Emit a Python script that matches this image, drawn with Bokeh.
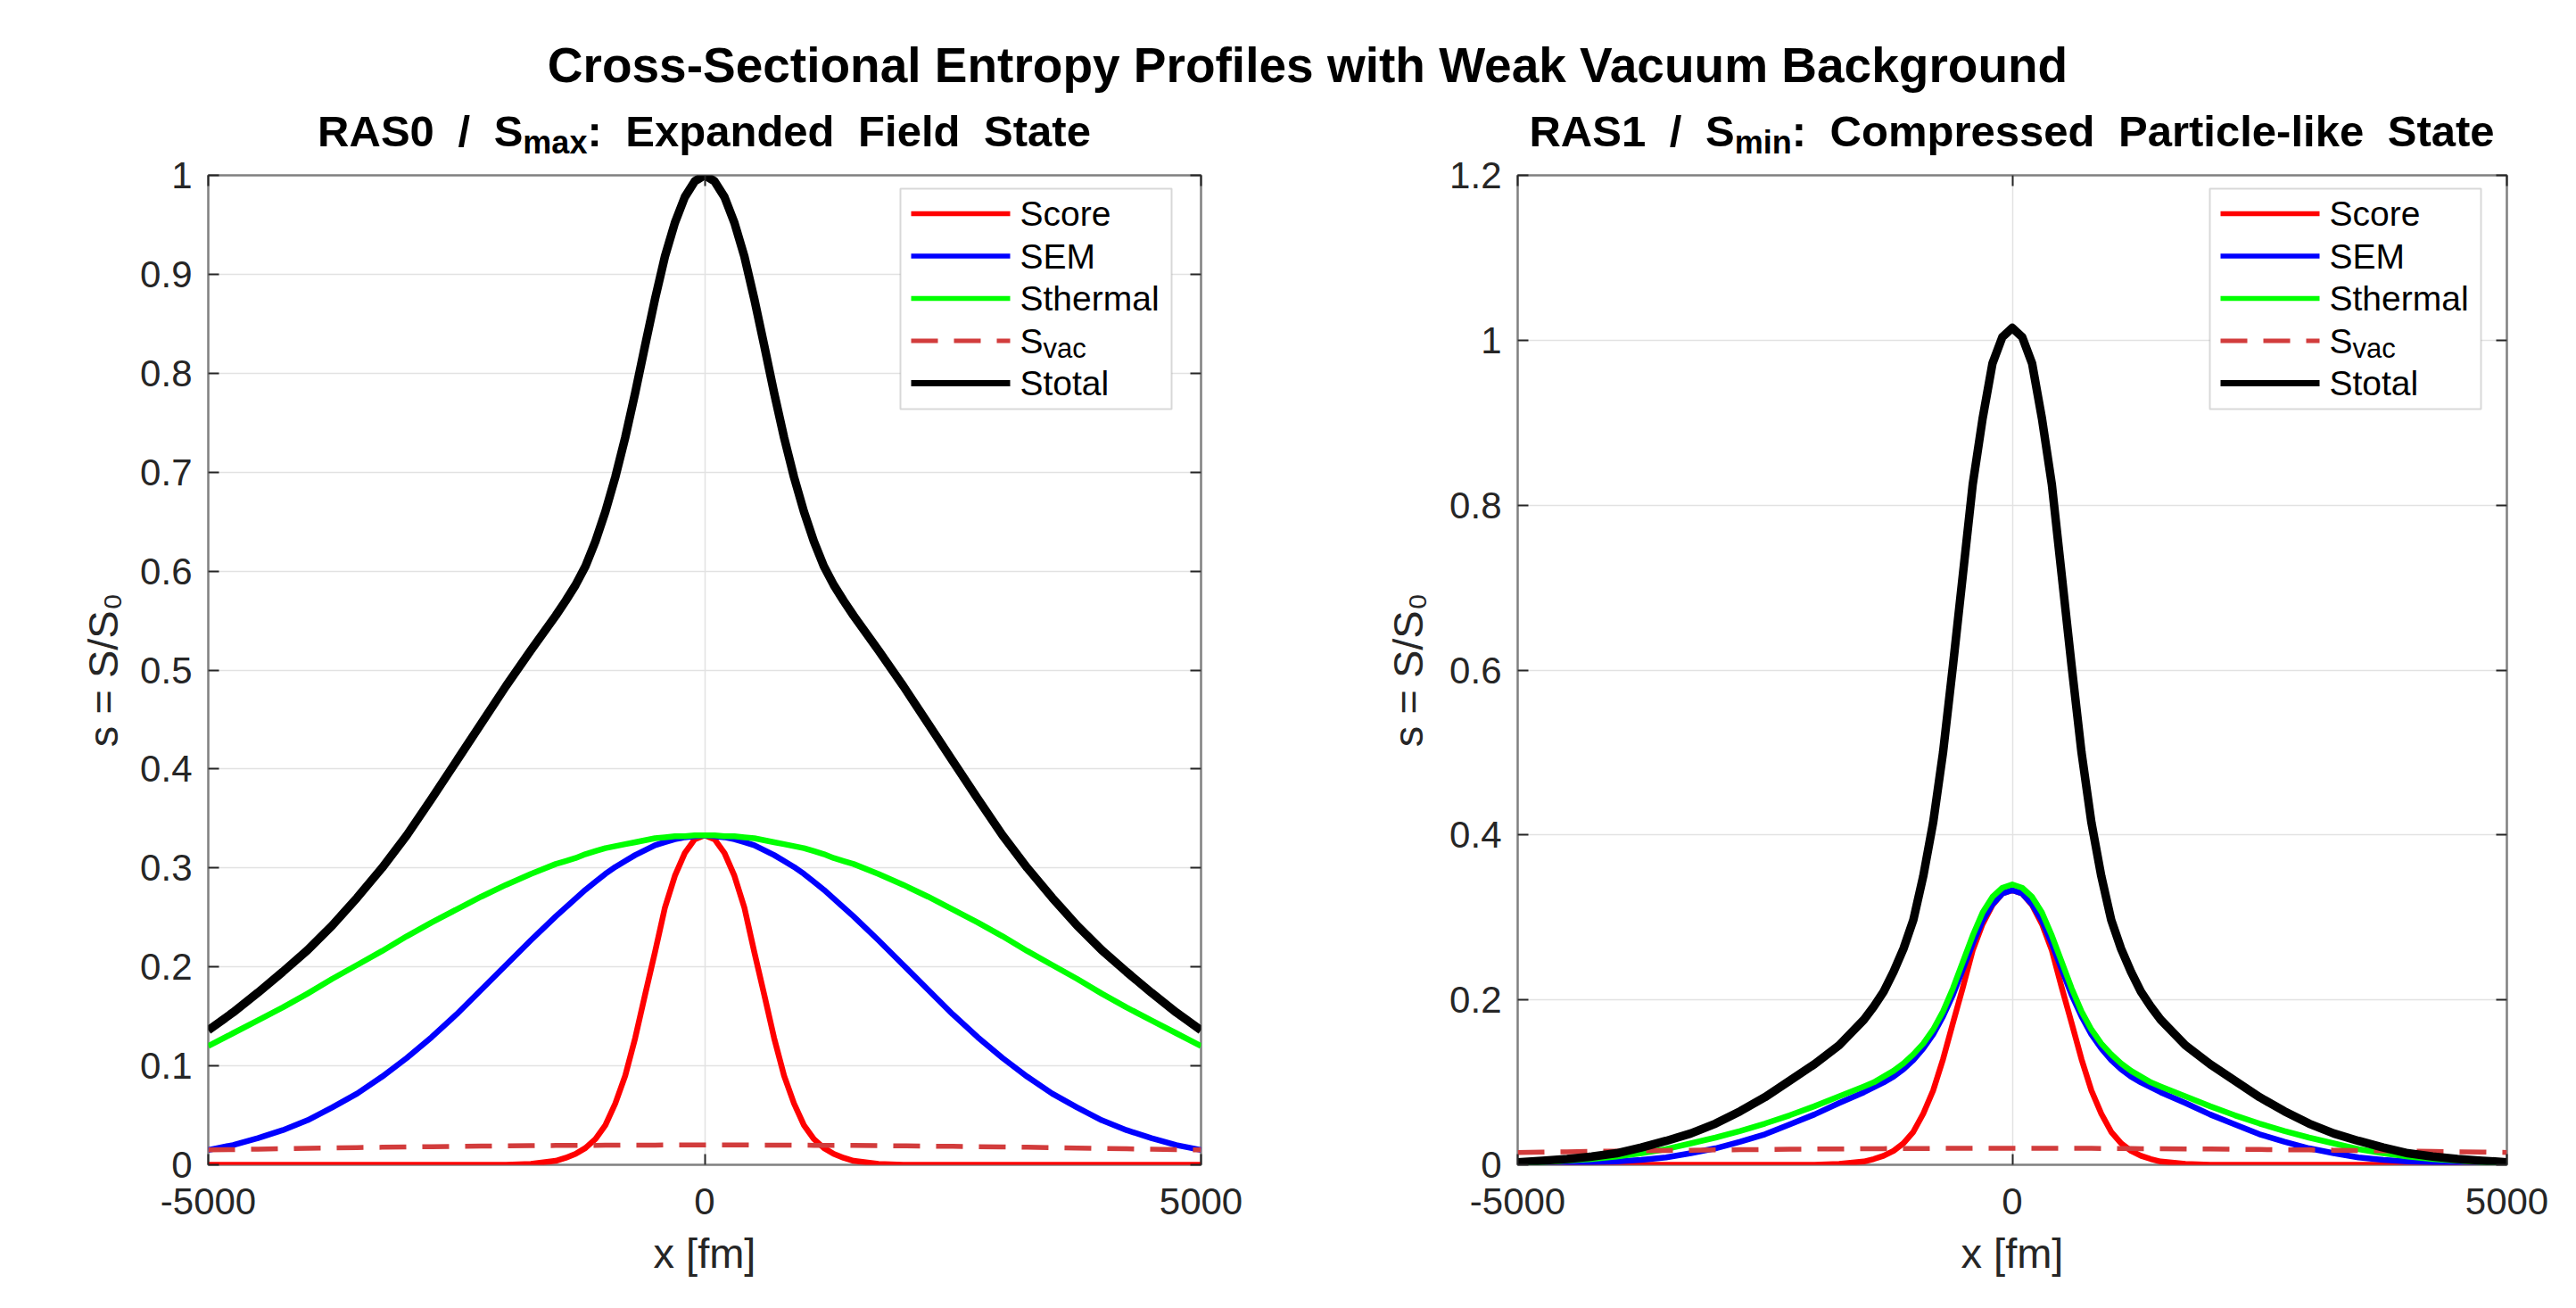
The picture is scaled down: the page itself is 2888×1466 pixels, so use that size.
import math
from bokeh.plotting import figure
from bokeh.models import Range1d, FixedTicker, LinearAxis, Label, BoxAnnotation, Div
from bokeh.layouts import column, row
from bokeh.embed import file_html
from bokeh.resources import INLINE

# ------------------------------------------------------------------ data
x_fm = [-5000, -4750, -4500, -4250, -4000, -3750, -3500, -3250, -3000, -2750,
        -2500, -2250, -2000, -1750, -1500, -1400, -1300, -1200, -1100, -1000,
        -900, -800, -700, -600, -500, -400, -300, -200, -100, 0,
        100, 200, 300, 400, 500, 600, 700, 800, 900, 1000,
        1100, 1200, 1300, 1400, 1500, 1750, 2000, 2250, 2500, 2750,
        3000, 3250, 3500, 3750, 4000, 4250, 4500, 4750, 5000]

# RAS0 / S_max panel
score_left = [0, 0, 0, 0, 0, 0, 0, 0, 0, 0,
              0, 0, 0, 0.001, 0.004, 0.007, 0.011, 0.017, 0.026, 0.040,
              0.062, 0.090, 0.128, 0.172, 0.215, 0.260, 0.292, 0.315, 0.329, 0.333,
              0.329, 0.315, 0.292, 0.260, 0.215, 0.172, 0.128, 0.090, 0.062, 0.040,
              0.026, 0.017, 0.011, 0.007, 0.004, 0.001, 0, 0, 0, 0,
              0, 0, 0, 0, 0, 0, 0, 0, 0]
sem_left = [0.015, 0.020, 0.027, 0.035, 0.045, 0.058, 0.072, 0.089, 0.108, 0.129,
            0.152, 0.177, 0.202, 0.227, 0.251, 0.260, 0.269, 0.278, 0.286, 0.294,
            0.301, 0.307, 0.313, 0.318, 0.323, 0.326, 0.329, 0.331, 0.332, 0.333,
            0.332, 0.331, 0.329, 0.326, 0.323, 0.318, 0.313, 0.307, 0.301, 0.294,
            0.286, 0.278, 0.269, 0.260, 0.251, 0.227, 0.202, 0.177, 0.152, 0.129,
            0.108, 0.089, 0.072, 0.058, 0.045, 0.035, 0.027, 0.020, 0.015]
thermal_left = [0.120, 0.133, 0.146, 0.159, 0.173, 0.188, 0.202, 0.216, 0.231, 0.245,
                0.258, 0.271, 0.283, 0.294, 0.304, 0.307, 0.310, 0.314, 0.317, 0.320,
                0.322, 0.324, 0.326, 0.328, 0.330, 0.331, 0.332, 0.332, 0.333, 0.333,
                0.333, 0.332, 0.332, 0.331, 0.330, 0.328, 0.326, 0.324, 0.322, 0.320,
                0.317, 0.314, 0.310, 0.307, 0.304, 0.294, 0.283, 0.271, 0.258, 0.245,
                0.231, 0.216, 0.202, 0.188, 0.173, 0.159, 0.146, 0.133, 0.120]
svac_left = [0.0150, 0.0154, 0.0158, 0.0162, 0.0166, 0.0170, 0.0174, 0.0177, 0.0180, 0.0183,
             0.0186, 0.0189, 0.0191, 0.0193, 0.0195, 0.0196, 0.0196, 0.0197, 0.0197, 0.0198,
             0.0198, 0.0199, 0.0199, 0.0199, 0.0199, 0.0200, 0.0200, 0.0200, 0.0200, 0.0200,
             0.0200, 0.0200, 0.0200, 0.0200, 0.0199, 0.0199, 0.0199, 0.0199, 0.0198, 0.0198,
             0.0197, 0.0197, 0.0196, 0.0196, 0.0195, 0.0193, 0.0191, 0.0189, 0.0186, 0.0183,
             0.0180, 0.0177, 0.0174, 0.0170, 0.0166, 0.0162, 0.0158, 0.0154, 0.0150]
total_left = [0.136, 0.154, 0.174, 0.195, 0.217, 0.242, 0.270, 0.300, 0.333, 0.370,
              0.408, 0.446, 0.484, 0.520, 0.555, 0.570, 0.586, 0.605, 0.630, 0.660,
              0.695, 0.735, 0.780, 0.828, 0.875, 0.918, 0.952, 0.978, 0.994, 1.000,
              0.994, 0.978, 0.952, 0.918, 0.875, 0.828, 0.780, 0.735, 0.695, 0.660,
              0.630, 0.605, 0.586, 0.570, 0.555, 0.520, 0.484, 0.446, 0.408, 0.370,
              0.333, 0.300, 0.270, 0.242, 0.217, 0.195, 0.174, 0.154, 0.136]

# RAS1 / S_min panel
score_right = [0, 0, 0, 0, 0, 0, 0, 0, 0, 0,
               0, 0, 0, 0.001, 0.004, 0.007, 0.011, 0.017, 0.026, 0.040,
               0.062, 0.090, 0.128, 0.172, 0.215, 0.260, 0.292, 0.315, 0.329, 0.333,
               0.329, 0.315, 0.292, 0.260, 0.215, 0.172, 0.128, 0.090, 0.062, 0.040,
               0.026, 0.017, 0.011, 0.007, 0.004, 0.001, 0, 0, 0, 0,
               0, 0, 0, 0, 0, 0, 0, 0, 0]
sem_right = [0.001, 0.001, 0.002, 0.003, 0.004, 0.006, 0.009, 0.014, 0.020, 0.028,
             0.037, 0.049, 0.061, 0.075, 0.088, 0.094, 0.100, 0.107, 0.116, 0.127,
             0.141, 0.158, 0.180, 0.206, 0.237, 0.268, 0.296, 0.316, 0.329, 0.333,
             0.329, 0.316, 0.296, 0.268, 0.237, 0.206, 0.180, 0.158, 0.141, 0.127,
             0.116, 0.107, 0.100, 0.094, 0.088, 0.075, 0.061, 0.049, 0.037, 0.028,
             0.020, 0.014, 0.009, 0.006, 0.004, 0.003, 0.002, 0.001, 0.001]
thermal_right = [0.002, 0.003, 0.005, 0.007, 0.010, 0.014, 0.019, 0.026, 0.033, 0.041,
                 0.050, 0.060, 0.071, 0.083, 0.095, 0.100, 0.107, 0.114, 0.123, 0.134,
                 0.147, 0.164, 0.186, 0.214, 0.246, 0.278, 0.306, 0.325, 0.336, 0.340,
                 0.336, 0.325, 0.306, 0.278, 0.246, 0.214, 0.186, 0.164, 0.147, 0.134,
                 0.123, 0.114, 0.107, 0.100, 0.095, 0.083, 0.071, 0.060, 0.050, 0.041,
                 0.033, 0.026, 0.019, 0.014, 0.010, 0.007, 0.005, 0.003, 0.002]
svac_right = [0.0150, 0.0154, 0.0158, 0.0162, 0.0166, 0.0170, 0.0174, 0.0177, 0.0180, 0.0183,
              0.0186, 0.0189, 0.0191, 0.0193, 0.0195, 0.0196, 0.0196, 0.0197, 0.0197, 0.0198,
              0.0198, 0.0199, 0.0199, 0.0199, 0.0199, 0.0200, 0.0200, 0.0200, 0.0200, 0.0200,
              0.0200, 0.0200, 0.0200, 0.0200, 0.0199, 0.0199, 0.0199, 0.0199, 0.0198, 0.0198,
              0.0197, 0.0197, 0.0196, 0.0196, 0.0195, 0.0193, 0.0191, 0.0189, 0.0186, 0.0183,
              0.0180, 0.0177, 0.0174, 0.0170, 0.0166, 0.0162, 0.0158, 0.0154, 0.0150]
total_right = [0.003, 0.005, 0.007, 0.010, 0.014, 0.021, 0.029, 0.038, 0.050, 0.065,
               0.082, 0.102, 0.122, 0.145, 0.176, 0.192, 0.210, 0.234, 0.262, 0.297,
               0.350, 0.415, 0.500, 0.605, 0.715, 0.825, 0.905, 0.972, 1.004, 1.015,
               1.004, 0.972, 0.905, 0.825, 0.715, 0.605, 0.500, 0.415, 0.350, 0.297,
               0.262, 0.234, 0.210, 0.192, 0.176, 0.145, 0.122, 0.102, 0.082, 0.065,
               0.050, 0.038, 0.029, 0.021, 0.014, 0.010, 0.007, 0.005, 0.003]

x_ticks = [-5000, 0, 5000]
x_tick_labels = ["-5000", "0", "5000"]
y_ticks_left = [0, 0.1, 0.2, 0.3, 0.4, 0.5, 0.6, 0.7, 0.8, 0.9, 1]
y_tick_labels_left = ["0", "0.1", "0.2", "0.3", "0.4", "0.5", "0.6", "0.7", "0.8", "0.9", "1"]
y_ticks_right = [0, 0.2, 0.4, 0.6, 0.8, 1, 1.2]
y_tick_labels_right = ["0", "0.2", "0.4", "0.6", "0.8", "1", "1.2"]
series_names = ["Score", "SEM", "Sthermal", "Svac", "Stotal"]

main_title = "Cross-Sectional Entropy Profiles with Weak Vacuum Background"
left_title_html = 'RAS0 / S<span class="sb">max</span>: Expanded Field State'
right_title_html = 'RAS1 / S<span class="sb">min</span>: Compressed Particle-like State'
x_label = "x [fm]"
y_label = "s = S/S\u2080"

# ------------------------------------------------------------------ style / layout
FONT = "Liberation Sans"
COLORS = ["#ff0000", "#0000ff", "#00ff00", "#d23c3c", "#000000"]
WIDTHS = [6.5, 6.5, 6.5, 5.5, 9.5]
DASHES = ["solid", "solid", "solid", "30 18", "solid"]
LEG_WIDTHS = [5.5, 5.5, 5.5, 5, 7]
TXT = "#262626"

REG_W = {'S': 667}

DIV_H = 170
FRAME_TOP = 196
FRAME_H = 1109
FRAME_BOTTOM = FRAME_TOP + FRAME_H


def build_panel(page_left, frame_left, frame_w, border_right, ymax, y_ticks, y_labels,
                ys, legend_inset, ylabel_standoff):
    p = figure(frame_width=frame_w, frame_height=FRAME_H,
               min_border_left=frame_left - page_left, min_border_right=border_right,
               min_border_top=FRAME_TOP - DIV_H, min_border_bottom=150,
               x_range=Range1d(-5000, 5000), y_range=Range1d(0, ymax),
               toolbar_location=None, tools="", output_backend="svg")
    p.background_fill_color = "white"
    p.border_fill_color = None
    p.outline_line_color = "#808080"
    p.outline_line_width = 2.5

    def dx(px):
        return -5000 + (px - frame_left) / frame_w * 10000.0

    def dy(py):
        return (FRAME_BOTTOM - py) / FRAME_H * ymax

    # axes
    p.xaxis.ticker = FixedTicker(ticks=x_ticks)
    p.xaxis.major_label_overrides = dict(zip(x_ticks, x_tick_labels))
    p.yaxis.ticker = FixedTicker(ticks=y_ticks)
    p.yaxis.major_label_overrides = dict(zip(y_ticks, y_labels))
    p.xaxis.major_label_standoff = 26
    p.yaxis.major_label_standoff = 18
    for ax in (p.xaxis[0], p.yaxis[0]):
        ax.axis_line_color = None
        ax.major_tick_in = 12
        ax.major_tick_out = 0
        ax.minor_tick_line_color = None
        ax.major_tick_line_color = TXT
        ax.major_tick_line_width = 2
        ax.major_label_text_font = FONT
        ax.major_label_text_font_size = "42px"
        ax.major_label_text_color = TXT
        ax.axis_label_text_font = FONT
        ax.axis_label_text_font_size = "47px"
        ax.axis_label_text_font_style = "normal"
        ax.axis_label_text_color = TXT
    p.xaxis.axis_label = x_label
    p.xaxis.axis_label_standoff = 14
    p.yaxis.axis_label = y_label
    p.yaxis.axis_label_standoff = ylabel_standoff

    p.add_layout(LinearAxis(ticker=FixedTicker(ticks=y_ticks),
                            major_label_overrides={t: "" for t in y_ticks},
                            major_label_text_font_size="1px", axis_line_color=None,
                            major_tick_in=12, major_tick_out=0, major_tick_line_color=TXT,
                            major_tick_line_width=2, minor_tick_line_color=None), "right")
    p.add_layout(LinearAxis(ticker=FixedTicker(ticks=x_ticks),
                            major_label_overrides={t: "" for t in x_ticks},
                            major_label_text_font_size="1px", axis_line_color=None,
                            major_label_standoff=0,
                            major_tick_in=12, major_tick_out=0, major_tick_line_color=TXT,
                            major_tick_line_width=2, minor_tick_line_color=None), "above")

    p.xgrid.ticker = FixedTicker(ticks=x_ticks)
    p.ygrid.ticker = FixedTicker(ticks=y_ticks)
    for g in (p.xgrid[0], p.ygrid[0]):
        g.grid_line_color = "#e2e2e2"
        g.grid_line_width = 1.5

    # data lines
    for yv, c, w, d in zip(ys, COLORS, WIDTHS, DASHES):
        p.line(x_fm, yv, line_color=c, line_width=w, line_dash=d, line_join="round")

    def lab(text, px, py, size):
        p.add_layout(Label(x=dx(px), y=dy(py), text=text, text_font=FONT,
                           text_font_size=f"{size}px", text_align="left",
                           text_baseline="middle", text_color="#000000", level="overlay"))

    # legend (inside the axes box)
    box_right = frame_left + frame_w - legend_inset
    box_left = box_right - 304
    box_top = FRAME_TOP + 15
    box_bottom = box_top + 247
    p.add_layout(BoxAnnotation(left=dx(box_left), right=dx(box_right),
                               top=dy(box_top), bottom=dy(box_bottom),
                               fill_color="white", fill_alpha=1.0,
                               line_color="#7f7f7f", line_width=2, level="annotation"))
    for i, name in enumerate(series_names):
        ry = box_top + 28 + 47.5 * i
        p.line([dx(box_left + 12), dx(box_left + 123)], [dy(ry), dy(ry)],
               line_color=COLORS[i], line_width=LEG_WIDTHS[i], line_dash=DASHES[i],
               level="overlay")
        tx = box_left + 134
        if name == "Svac":
            lab("S", tx, ry, 39)
            lab("vac", tx + REG_W['S'] / 1000.0 * 39, ry + 8, 31)
        else:
            lab(name, tx, ry, 39)
    return p


P1_LEFT, P1_W, P1_RB = 233, 1113, 60
P2_PAGE_LEFT = P1_LEFT + P1_W + P1_RB
P2_LEFT, P2_W = 1701, 1109

p1 = build_panel(0, P1_LEFT, P1_W, P1_RB, 1.0, y_ticks_left, y_tick_labels_left,
                 [score_left, sem_left, thermal_left, svac_left, total_left], 33, 12)
p2 = build_panel(P2_PAGE_LEFT, P2_LEFT, P2_W, 60, 1.2, y_ticks_right, y_tick_labels_right,
                 [score_right, sem_right, thermal_right, svac_right, total_right], 29, 17)

font_css = "font-family:'Liberation Sans',Arial,Helvetica,sans-serif;"
html = (
    '<style>.sb{font-size:36px;position:relative;top:8px;}</style>'
    '<div style="position:relative;width:2888px;height:%dpx;%scolor:#000;">'
    '<div style="position:absolute;left:44px;top:46px;width:2844px;text-align:center;'
    'font-weight:bold;font-size:55px;line-height:55px;white-space:nowrap;">%s</div>'
    '<div style="position:absolute;left:%dpx;top:123px;width:%dpx;text-align:center;'
    'font-weight:bold;font-size:49px;line-height:49px;white-space:nowrap;word-spacing:13px;">%s</div>'
    '<div style="position:absolute;left:%dpx;top:123px;width:%dpx;text-align:center;'
    'font-weight:bold;font-size:49px;line-height:49px;white-space:nowrap;word-spacing:13px;">%s</div>'
    '</div>'
) % (DIV_H, font_css, main_title, P1_LEFT, P1_W, left_title_html, P2_LEFT, P2_W, right_title_html)
title_div = Div(text=html, width=2888, height=DIV_H, margin=0)

layout = column(title_div, row(p1, p2, spacing=0), spacing=0)
open("out.html", "w").write(file_html(layout, INLINE))
